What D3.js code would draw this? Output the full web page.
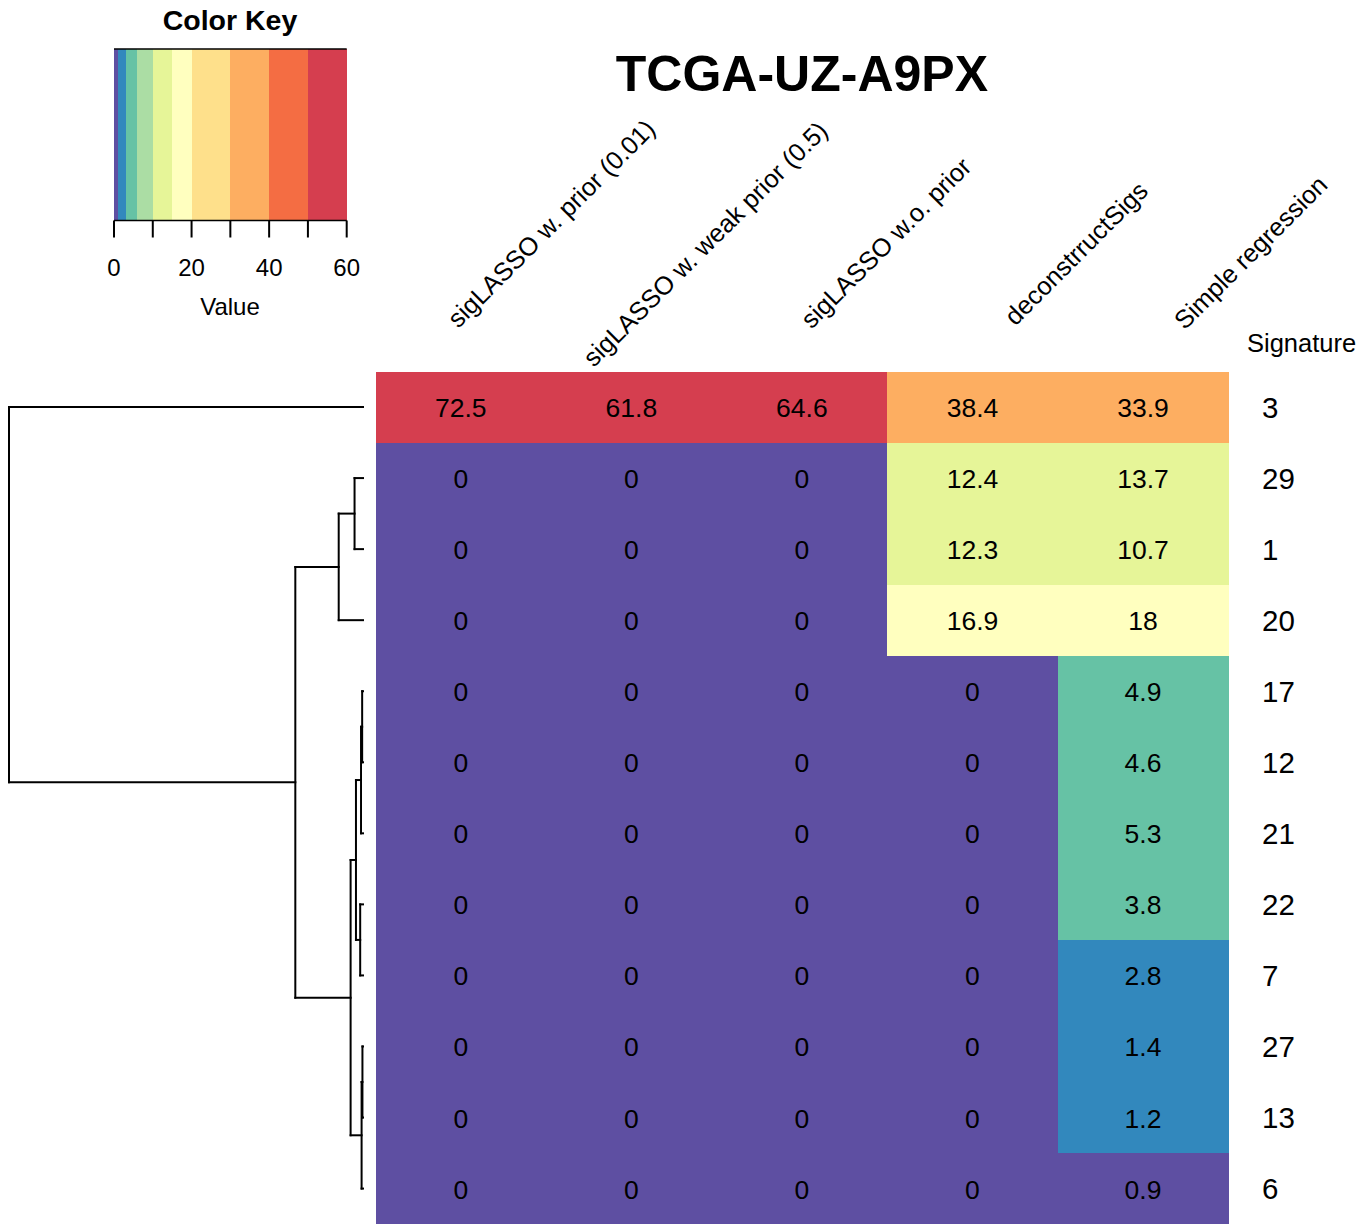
<!DOCTYPE html>
<html><head><meta charset="utf-8">
<script src="https://cdn.jsdelivr.net/npm/d3@7"></script>
<style>body{margin:0;background:#fff} text{font-family:"Liberation Sans",Arial,Helvetica,sans-serif}</style>
</head><body><svg id="c" width="1371" height="1224"></svg>
<script>
// ---- data ----
const title = "TCGA-UZ-A9PX";
const methods = ["sigLASSO w. prior (0.01)","sigLASSO w. weak prior (0.5)","sigLASSO w.o. prior","deconstrructSigs","Simple regression"];
const signatures = ["3","29","1","20","17","12","21","22","7","27","13","6"];
const valPrior001 = [72.5,0,0,0,0,0,0,0,0,0,0,0];
const valWeakPrior05 = [61.8,0,0,0,0,0,0,0,0,0,0,0];
const valNoPrior = [64.6,0,0,0,0,0,0,0,0,0,0,0];
const valDeconstructSigs = [38.4,12.4,12.3,16.9,0,0,0,0,0,0,0,0];
const valSimpleRegression = [33.9,13.7,10.7,18,4.9,4.6,5.3,3.8,2.8,1.4,1.2,0.9];
const breaks = [0,1,3,6,10,15,20,30,40,50,60];
const palette = ["#5E4FA2","#3288BD","#66C2A5","#ABDDA4","#E6F598","#FFFFBF","#FEE08B","#FDAE61","#F46D43","#D53E4F"];
const keyTicks = [0,10,20,30,40,50,60];
const keyTickLabels = [0,20,40,60];
// row dendrogram topology (heights computed by complete linkage, Euclidean)
const rowTree = ["3", [[["29","1"],"20"], [[[["17","12"],"21"],["22","7"]], [["27","13"],"6"]]]];

// ---- build ----
const series = [valPrior001,valWeakPrior05,valNoPrior,valDeconstructSigs,valSimpleRegression];
const rowsVec = {};
signatures.forEach((s,i)=>{ rowsVec[s] = series.map(a=>a[i]); });
const cells = [];
signatures.forEach((s,i)=>methods.forEach((m,j)=>cells.push({s, m, v: series[j][i]})));

const svg = d3.select("#c");

const x = d3.scaleBand().domain(methods).range([375.5,1228.3]);
const y = d3.scaleBand().domain(signatures).range([371.5,1224.1]);
const color = d3.scaleThreshold().domain(breaks.slice(1,-1)).range(palette);

// heatmap cells
svg.append("g").attr("shape-rendering","crispEdges").selectAll("rect").data(cells).join("rect")
  .attr("x", d=>x(d.m)).attr("y", d=>y(d.s))
  .attr("width", x.bandwidth()+0.6).attr("height", y.bandwidth()+0.6)
  .attr("fill", d=>color(d.v));

// cell notes
svg.append("g").selectAll("text").data(cells).join("text")
  .attr("x", d=>x(d.m)+x.bandwidth()/2).attr("y", d=>y(d.s)+y.bandwidth()/2+10)
  .attr("text-anchor","middle").attr("font-size",26.5).attr("fill","#000")
  .text(d=>String(d.v));

// row labels
svg.append("g").selectAll("text").data(signatures).join("text")
  .attr("x", 1262).attr("y", d=>y(d)+y.bandwidth()/2+10.5)
  .attr("font-size",29.5).text(d=>d);

svg.append("text").attr("x",1247).attr("y",352).attr("font-size",25.5).text("Signature");

// column labels (rotated 45deg), anchored at end
const labelEnds = [[196,-241],[198,-239],[171,-203],[177,-179],[186,-185]]; // offset from column centre / heatmap top
svg.append("g").selectAll("text").data(methods).join("text")
  .attr("transform", (d,i)=>`translate(${x(d)+x.bandwidth()/2+labelEnds[i][0]},${371.5+labelEnds[i][1]}) rotate(-45)`)
  .attr("text-anchor","end").attr("font-size",25.5).text(d=>d);

// title
svg.append("text").attr("x",(375.5+1228.3)/2).attr("y",91).attr("text-anchor","middle")
  .attr("font-size",50).attr("font-weight","bold").text(title);

// ---- dendrogram ----
function dist(a,b){ const va=rowsVec[a], vb=rowsVec[b]; return Math.sqrt(d3.sum(va.map((v,k)=>(v-vb[k])**2))); }
function build(node){
  if (typeof node === "string") return {leaf:true, name:node, leaves:[node], h:0, pos:y(node)+y.bandwidth()/2};
  const ch = node.map(build);
  let h = 0;
  ch[0].leaves.forEach(a=>ch[1].leaves.forEach(b=>{ h=Math.max(h,dist(a,b)); }));
  return {leaf:false, children:ch, leaves:ch[0].leaves.concat(ch[1].leaves), h, pos:(ch[0].pos+ch[1].pos)/2};
}
const root = build(rowTree);
const hx = d3.scaleLinear().domain([0, root.h]).range([363, 9]);
const segs = [];
(function walk(n){
  if (n.leaf) return;
  segs.push([hx(n.h), n.children[0].pos, hx(n.h), n.children[1].pos]);
  n.children.forEach(c=>{ segs.push([hx(n.h), c.pos, hx(c.h), c.pos]); walk(c); });
})(root);
svg.append("g").selectAll("line").data(segs).join("line")
  .attr("x1",d=>d[0]).attr("y1",d=>d[1]).attr("x2",d=>d[2]).attr("y2",d=>d[3])
  .attr("stroke","#000").attr("stroke-width",2).attr("stroke-linecap","square");

// ---- color key ----
const kx = d3.scaleLinear().domain([breaks[0], breaks[breaks.length-1]]).range([114, 346.7]);
const keyTop = 49, keyBot = 220.5;
const kg = svg.append("g");
kg.append("g").attr("shape-rendering","crispEdges").selectAll("rect").data(palette).join("rect")
  .attr("x",(c,i)=>kx(breaks[i])).attr("width",(c,i)=>kx(breaks[i+1])-kx(breaks[i])+0.4)
  .attr("y",keyTop).attr("height",keyBot-keyTop).attr("fill",c=>c);
kg.append("line").attr("x1",kx(0)).attr("x2",kx(60)).attr("y1",keyTop).attr("y2",keyTop).attr("stroke","#000").attr("stroke-width",1.5);
kg.append("line").attr("x1",kx(0)).attr("x2",kx(60)).attr("y1",keyBot).attr("y2",keyBot).attr("stroke","#000").attr("stroke-width",1.5);
kg.selectAll(".tk").data(keyTicks).join("line").attr("class","tk")
  .attr("x1",d=>kx(d)).attr("x2",d=>kx(d)).attr("y1",keyBot).attr("y2",keyBot+17)
  .attr("stroke","#000").attr("stroke-width",2);
kg.selectAll(".tl").data(keyTickLabels).join("text").attr("class","tl")
  .attr("x",d=>kx(d)).attr("y",276).attr("text-anchor","middle").attr("font-size",24).text(d=>d);
kg.append("text").attr("x",230).attr("y",315).attr("text-anchor","middle").attr("font-size",24).text("Value");
kg.append("text").attr("x",230).attr("y",30).attr("text-anchor","middle").attr("font-size",28.5).attr("font-weight","bold").text("Color Key");
</script></body></html>
